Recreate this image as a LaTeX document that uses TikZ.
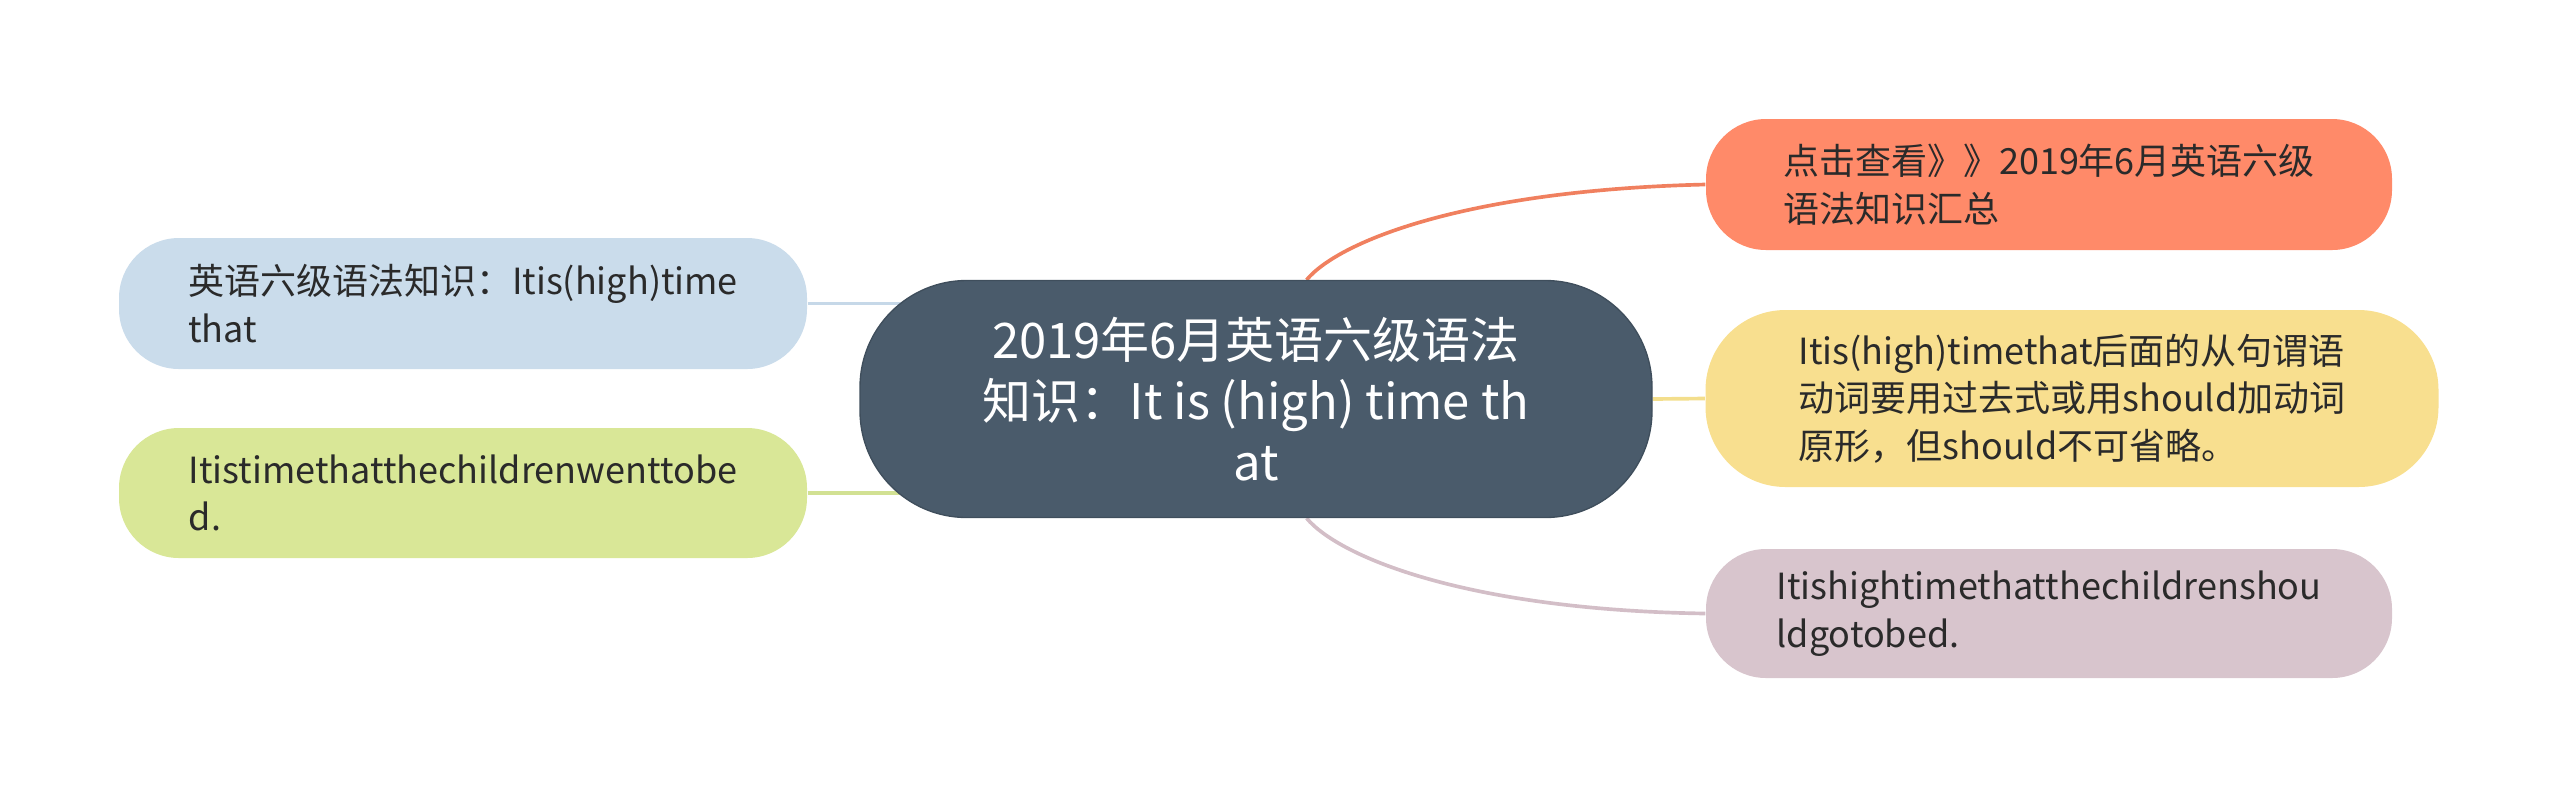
\documentclass[tikz,border=0pt]{standalone}
\usepackage{fontspec}
\setmainfont{Noto Sans CJK SC}
\usetikzlibrary{backgrounds,calc}
\definecolor{centralfill}{HTML}{4A5B6B}
\definecolor{centraldraw}{HTML}{3F4E5C}
\definecolor{orangefill}{HTML}{FF8A69}
\definecolor{orangeline}{HTML}{F0805F}
\definecolor{yellowfill}{HTML}{F8DF8F}
\definecolor{yellowline}{HTML}{F3DE8C}
\definecolor{mauvefill}{HTML}{D8C5CD}
\definecolor{mauveline}{HTML}{D3BEC7}
\definecolor{bluefill}{HTML}{CADCEB}
\definecolor{blueline}{HTML}{C6D8E8}
\definecolor{greenfill}{HTML}{D9E797}
\definecolor{greenline}{HTML}{D2E193}
\definecolor{textdark}{HTML}{2A2A2A}
\tikzset{
  sidebox/.style={inner sep=0pt, align=left, text=textdark,
    font=\fontsize{10.8}{14.3}\selectfont},
  centralbox/.style={inner sep=0pt, align=center, text=white, fill=centralfill,
    draw=centraldraw, line width=0.4pt,
    font=\fontsize{14.7}{18.4}\selectfont},
  conn/.style={line width=1.1pt}
}
\begin{document}
\begin{tikzpicture}[x=0.3pt,y=-0.3pt]
\useasboundingbox (0,0) rectangle (2560,799);

\node[centralbox, minimum width=792*0.3pt, minimum height=237*0.3pt, rounded corners=32pt] (c) at (1256,399)
  {2019年6月英语六级语法\\知识：It is (high) time th\\at};

\node[sidebox, fill=orangefill, minimum width=686*0.3pt, minimum height=131*0.3pt, rounded corners=18pt] (o) at (2049,184.5)
  {点击查看》》2019年6月英语六级\\语法知识汇总};

\node[sidebox, fill=yellowfill, minimum width=733*0.3pt, minimum height=177*0.3pt, rounded corners=24pt] (y) at (2072,398.5)
  {Itis(high)timethat后面的从句谓语\\动词要用过去式或用should加动词\\原形，但should不可省略。};

\node[sidebox, fill=mauvefill, minimum width=686*0.3pt, minimum height=129*0.3pt, rounded corners=18pt] (m) at (2049,613.5)
  {Itishightimethatthechildrenshou\\ldgotobed.};

\node[sidebox, fill=bluefill, minimum width=688*0.3pt, minimum height=131*0.3pt, rounded corners=18pt] (b) at (463,303.5)
  {英语六级语法知识：Itis(high)time\\that};

\node[sidebox, fill=greenfill, minimum width=688*0.3pt, minimum height=130*0.3pt, rounded corners=18pt] (g) at (463,493)
  {Itistimethatthechildrenwenttobe\\d.};

\begin{pgfonlayer}{background}
  \coordinate (bend) at ($(c.west |- b.east)+(60,0)$);
  \coordinate (gend) at ($(c.west |- g.east)+(60,0)$);
  \draw[conn, draw=orangeline] (c.67) .. controls (1340,240) and (1470,190) .. (o.west);
  \draw[conn, draw=mauveline] (c.-67) .. controls (1340,558) and (1470,610) .. (m.west);
  \draw[conn, draw=yellowline] (c.east) -- (y.west);
  \draw[conn, draw=blueline] (b.east) -- (bend);
  \draw[conn, draw=greenline] (g.east) -- (gend);
\end{pgfonlayer}
\end{tikzpicture}
\end{document}
